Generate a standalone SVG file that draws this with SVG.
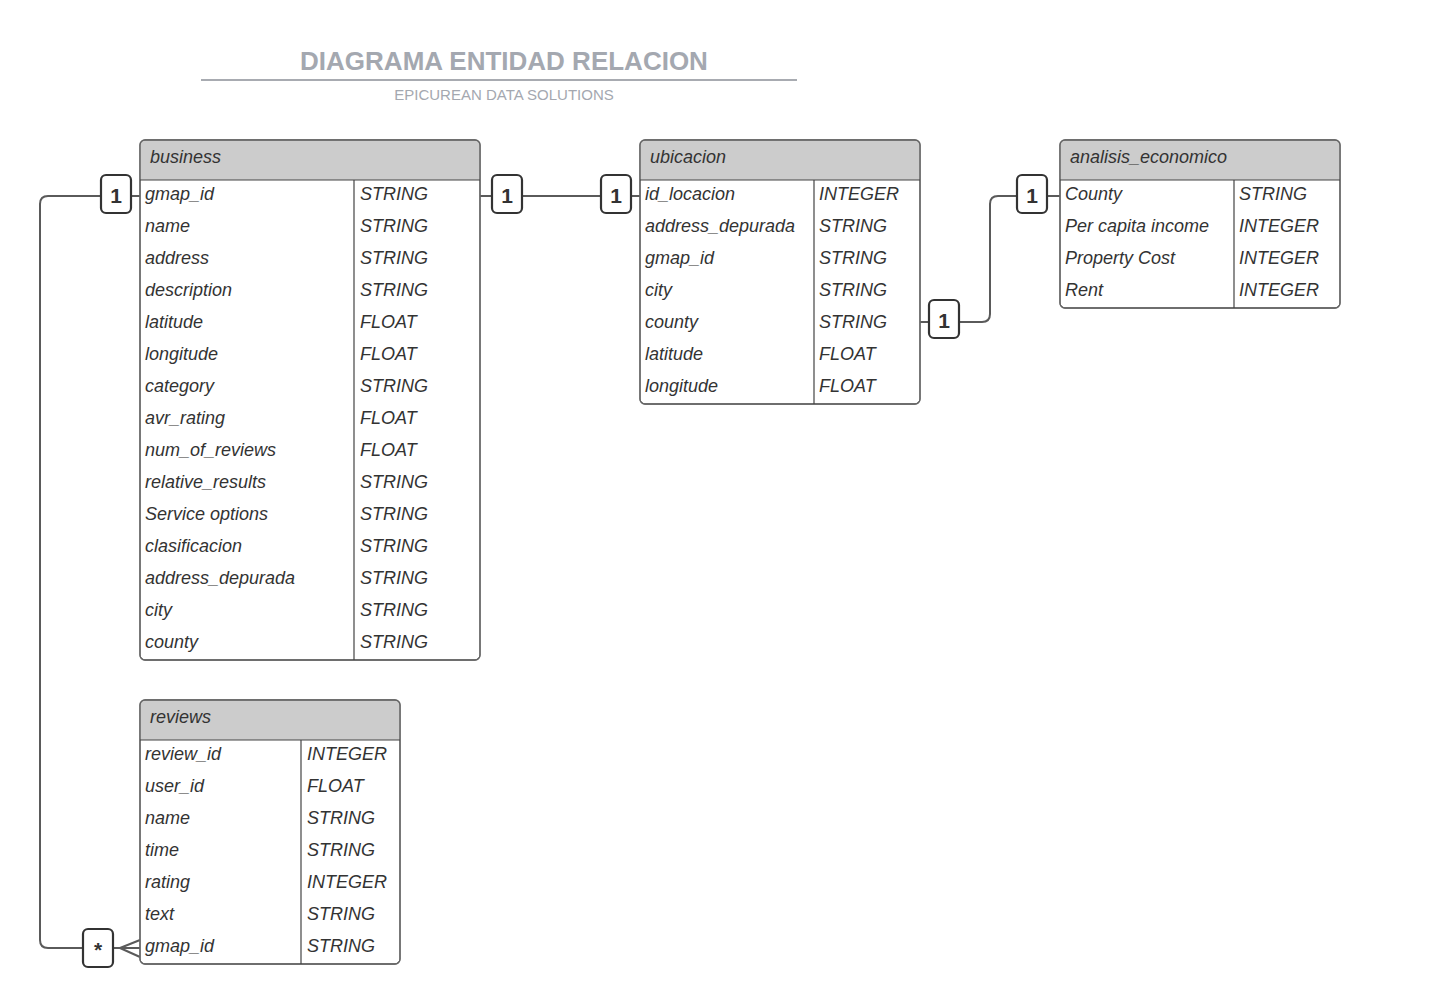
<svg xmlns="http://www.w3.org/2000/svg" width="1440" height="1008" viewBox="0 0 1440 1008">
<style>
.title{font-family:"Liberation Sans",Arial,sans-serif;font-weight:bold;font-size:26px;fill:#a4a8b0}
.sub{font-family:"Liberation Sans",Arial,sans-serif;font-size:15px;fill:#a4a8b0}
.frame{fill:#ffffff;stroke:#666666;stroke-width:1.3}
.hdr{fill:#cccccc}
.sep{stroke:#444444;stroke-width:1.2}
.t{font-family:"Liberation Sans",Arial,sans-serif;font-style:italic;font-size:18px;fill:#333333}
.conn{fill:none;stroke:#5a5a5a;stroke-width:2}
.badge{fill:#ffffff;stroke:#333333;stroke-width:2.2}
.bt{font-family:"Liberation Sans",Arial,sans-serif;font-weight:bold;font-size:21px;fill:#333333;text-anchor:middle}
</style>
<rect width="1440" height="1008" fill="#ffffff"/>
<g id="title">
<text class="title" x="504" y="70" text-anchor="middle">DIAGRAMA ENTIDAD RELACION</text>
<line x1="201" y1="80" x2="797" y2="80" stroke="#a8abb1" stroke-width="2"/>
<text class="sub" x="504" y="100" text-anchor="middle">EPICUREAN DATA SOLUTIONS</text>
</g>
<g id="connectors">
<path class="conn" d="M101,196 H48 Q40,196 40,204 V940 Q40,948 48,948 H83"/>
<line class="conn" x1="131" y1="196" x2="140" y2="196"/>
<path class="conn" d="M113,948 H120 M120,948 L140,940 M120,948 H140 M120,948 L140,957"/>
<line class="conn" x1="480" y1="196" x2="492" y2="196"/>
<line class="conn" x1="522" y1="196" x2="601" y2="196"/>
<line class="conn" x1="631" y1="196" x2="640" y2="196"/>
<line class="conn" x1="920" y1="322" x2="929" y2="322"/>
<path class="conn" d="M959,322 H982 Q990,322 990,314 V204 Q990,196 998,196 H1017"/>
<line class="conn" x1="1047" y1="196" x2="1060" y2="196"/>
</g>
<g id="business">
<rect class="frame" x="140" y="140" width="340" height="520" rx="5"/>
<path class="hdr" d="M145,140.7 H475 Q479.3,140.7 479.3,145 V180 H140.7 V145 Q140.7,140.7 145,140.7 Z"/>
<rect x="140" y="140" width="340" height="520" rx="5" fill="none" stroke="#666666" stroke-width="1.3"/>
<line class="sep" x1="140" y1="180" x2="480" y2="180"/>
<line class="sep" x1="354" y1="180" x2="354" y2="660"/>
<text class="t" x="150" y="163">business</text>
<text class="t" x="145" y="200">gmap_id</text><text class="t" x="360" y="200">STRING</text>
<text class="t" x="145" y="232">name</text><text class="t" x="360" y="232">STRING</text>
<text class="t" x="145" y="264">address</text><text class="t" x="360" y="264">STRING</text>
<text class="t" x="145" y="296">description</text><text class="t" x="360" y="296">STRING</text>
<text class="t" x="145" y="328">latitude</text><text class="t" x="360" y="328">FLOAT</text>
<text class="t" x="145" y="360">longitude</text><text class="t" x="360" y="360">FLOAT</text>
<text class="t" x="145" y="392">category</text><text class="t" x="360" y="392">STRING</text>
<text class="t" x="145" y="424">avr_rating</text><text class="t" x="360" y="424">FLOAT</text>
<text class="t" x="145" y="456">num_of_reviews</text><text class="t" x="360" y="456">FLOAT</text>
<text class="t" x="145" y="488">relative_results</text><text class="t" x="360" y="488">STRING</text>
<text class="t" x="145" y="520">Service options</text><text class="t" x="360" y="520">STRING</text>
<text class="t" x="145" y="552">clasificacion</text><text class="t" x="360" y="552">STRING</text>
<text class="t" x="145" y="584">address_depurada</text><text class="t" x="360" y="584">STRING</text>
<text class="t" x="145" y="616">city</text><text class="t" x="360" y="616">STRING</text>
<text class="t" x="145" y="648">county</text><text class="t" x="360" y="648">STRING</text>
</g>
<g id="ubicacion">
<rect class="frame" x="640" y="140" width="280" height="264" rx="5"/>
<path class="hdr" d="M645,140.7 H915 Q919.3,140.7 919.3,145 V180 H640.7 V145 Q640.7,140.7 645,140.7 Z"/>
<rect x="640" y="140" width="280" height="264" rx="5" fill="none" stroke="#666666" stroke-width="1.3"/>
<line class="sep" x1="640" y1="180" x2="920" y2="180"/>
<line class="sep" x1="814" y1="180" x2="814" y2="404"/>
<text class="t" x="650" y="163">ubicacion</text>
<text class="t" x="645" y="200">id_locacion</text><text class="t" x="819" y="200">INTEGER</text>
<text class="t" x="645" y="232">address_depurada</text><text class="t" x="819" y="232">STRING</text>
<text class="t" x="645" y="264">gmap_id</text><text class="t" x="819" y="264">STRING</text>
<text class="t" x="645" y="296">city</text><text class="t" x="819" y="296">STRING</text>
<text class="t" x="645" y="328">county</text><text class="t" x="819" y="328">STRING</text>
<text class="t" x="645" y="360">latitude</text><text class="t" x="819" y="360">FLOAT</text>
<text class="t" x="645" y="392">longitude</text><text class="t" x="819" y="392">FLOAT</text>
</g>
<g id="analisis_economico">
<rect class="frame" x="1060" y="140" width="280" height="168" rx="5"/>
<path class="hdr" d="M1065,140.7 H1335 Q1339.3,140.7 1339.3,145 V180 H1060.7 V145 Q1060.7,140.7 1065,140.7 Z"/>
<rect x="1060" y="140" width="280" height="168" rx="5" fill="none" stroke="#666666" stroke-width="1.3"/>
<line class="sep" x1="1060" y1="180" x2="1340" y2="180"/>
<line class="sep" x1="1234" y1="180" x2="1234" y2="308"/>
<text class="t" x="1070" y="163">analisis_economico</text>
<text class="t" x="1065" y="200">County</text><text class="t" x="1239" y="200">STRING</text>
<text class="t" x="1065" y="232">Per capita income</text><text class="t" x="1239" y="232">INTEGER</text>
<text class="t" x="1065" y="264">Property Cost</text><text class="t" x="1239" y="264">INTEGER</text>
<text class="t" x="1065" y="296">Rent</text><text class="t" x="1239" y="296">INTEGER</text>
</g>
<g id="reviews">
<rect class="frame" x="140" y="700" width="260" height="264" rx="5"/>
<path class="hdr" d="M145,700.7 H395 Q399.3,700.7 399.3,705 V740 H140.7 V705 Q140.7,700.7 145,700.7 Z"/>
<rect x="140" y="700" width="260" height="264" rx="5" fill="none" stroke="#666666" stroke-width="1.3"/>
<line class="sep" x1="140" y1="740" x2="400" y2="740"/>
<line class="sep" x1="301" y1="740" x2="301" y2="964"/>
<text class="t" x="150" y="723">reviews</text>
<text class="t" x="145" y="760">review_id</text><text class="t" x="307" y="760">INTEGER</text>
<text class="t" x="145" y="792">user_id</text><text class="t" x="307" y="792">FLOAT</text>
<text class="t" x="145" y="824">name</text><text class="t" x="307" y="824">STRING</text>
<text class="t" x="145" y="856">time</text><text class="t" x="307" y="856">STRING</text>
<text class="t" x="145" y="888">rating</text><text class="t" x="307" y="888">INTEGER</text>
<text class="t" x="145" y="920">text</text><text class="t" x="307" y="920">STRING</text>
<text class="t" x="145" y="952">gmap_id</text><text class="t" x="307" y="952">STRING</text>
</g>
<g id="badge_business_reviews">
<rect class="badge" x="101" y="175" width="30" height="38" rx="5"/>
<text class="bt" x="116" y="203">1</text>
</g>
<g id="badge_reviews_many">
<rect class="badge" x="83" y="929" width="30" height="38" rx="5"/>
<text class="bt" x="98" y="957">*</text>
</g>
<g id="badge_business_ubicacion">
<rect class="badge" x="492" y="175" width="30" height="38" rx="5"/>
<text class="bt" x="507" y="203">1</text>
</g>
<g id="badge_ubicacion_business">
<rect class="badge" x="601" y="175" width="30" height="38" rx="5"/>
<text class="bt" x="616" y="203">1</text>
</g>
<g id="badge_ubicacion_analisis">
<rect class="badge" x="929" y="300" width="30" height="38" rx="5"/>
<text class="bt" x="944" y="328">1</text>
</g>
<g id="badge_analisis_ubicacion">
<rect class="badge" x="1017" y="175" width="30" height="38" rx="5"/>
<text class="bt" x="1032" y="203">1</text>
</g>
</svg>
